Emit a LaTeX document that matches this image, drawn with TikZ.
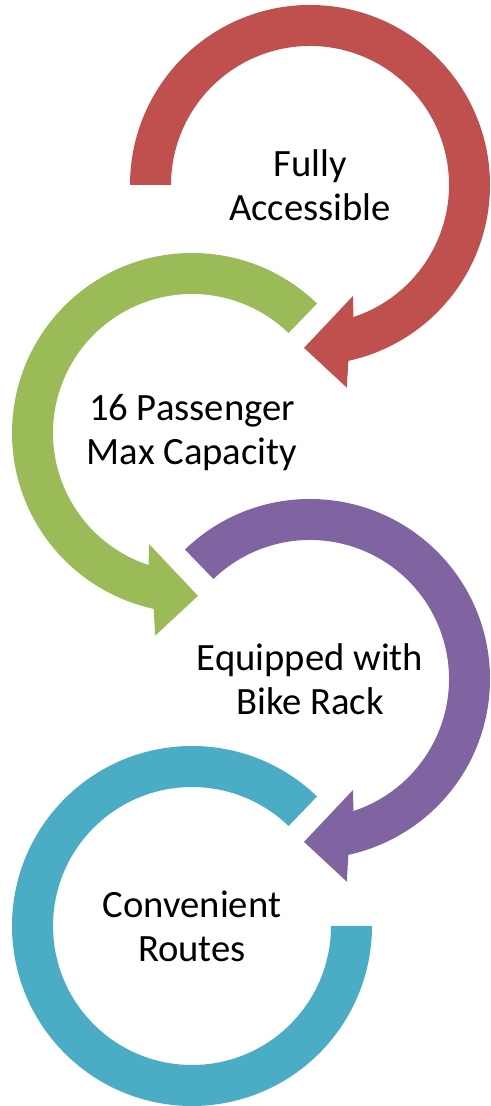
\documentclass[tikz,border=0pt]{standalone}
\usepackage{fontspec}
\setmainfont{Carlito}
\definecolor{ringred}{HTML}{C0504D}
\definecolor{ringgreen}{HTML}{9BBB59}
\definecolor{ringpurple}{HTML}{8064A2}
\definecolor{ringteal}{HTML}{4BACC6}
\begin{document}
\begin{tikzpicture}[x=0.2mm,y=0.2mm,
  ringtext/.style={align=center,font=\fontsize{22}{25}\selectfont}]
\useasboundingbox (0,0) rectangle (490,1106);
% ring centres, with their texts
\node[ringtext] (access) at (310,921) {Fully\\Accessible};
\node[ringtext] (capacity) at (192,673) {16 Passenger\\Max Capacity};
\node[ringtext] (bike) at (310,427) {Equipped with\\Bike Rack};
\node[ringtext] (routes) at (192,180) {Convenient\\Routes};
% red, clockwise
\fill[ringred,shift={(access)}] (180:180) arc[start angle=180,end angle=-77.7,radius=180]
  -- (-79.7:206) -- (-92.1:163) -- (-68.8:119) -- (-71.8:139)
  arc[start angle=-71.8,end angle=180,radius=139] -- cycle;
% green, counterclockwise
\fill[ringgreen,shift={(capacity)}] (46:180) arc[start angle=46,end angle=257.7,radius=180]
  -- (259.7:206) -- (272.1:163) -- (248.8:119) -- (251.8:139)
  arc[start angle=251.8,end angle=46,radius=139] -- cycle;
% purple, clockwise
\fill[ringpurple,shift={(bike)}] (134:180) arc[start angle=134,end angle=-77.7,radius=180]
  -- (-79.7:206) -- (-92.1:163) -- (-68.8:119) -- (-71.8:139)
  arc[start angle=-71.8,end angle=134,radius=139] -- cycle;
% teal, no head
\fill[ringteal,shift={(routes)}] (46:180) arc[start angle=46,end angle=360,radius=180]
  -- (0:139) arc[start angle=360,end angle=46,radius=139] -- cycle;
\end{tikzpicture}
\end{document}
